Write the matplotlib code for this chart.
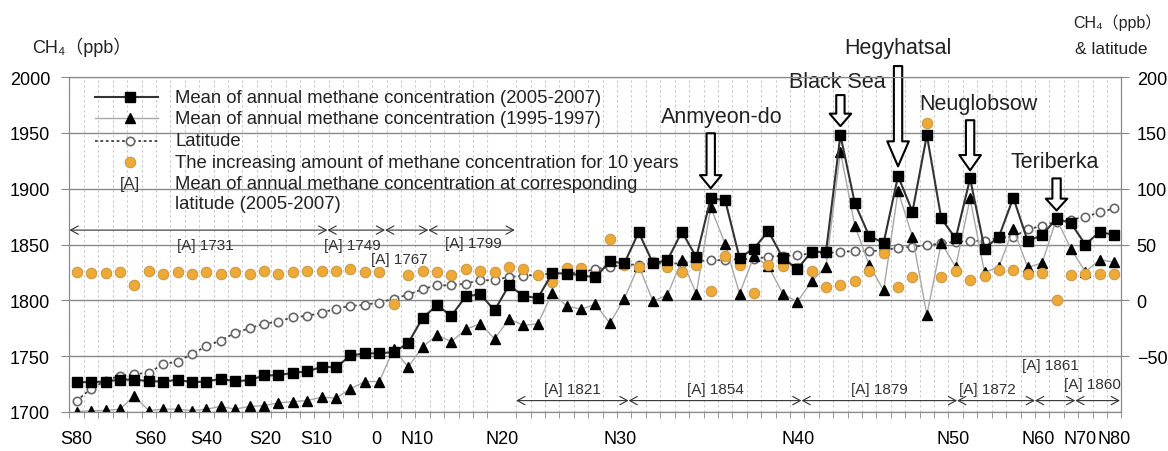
import numpy as np
import matplotlib
matplotlib.use('Agg')
import matplotlib.pyplot as plt
from matplotlib.patches import Rectangle

plt.rcParams['font.family'] = ['Liberation Sans', 'DejaVu Sans', 'Noto Sans CJK JP']

# datos por estacion (de sur a norte)
conc_2005 = [1726.7, 1726.7, 1727.3, 1729.0, 1729.0, 1727.6, 1727.3, 1728.8, 1726.7, 1727.3,
             1729.7, 1727.6, 1728.5, 1732.7, 1733.0, 1735.0, 1736.3, 1740.5, 1740.0, 1750.6,
             1752.5, 1752.5, 1753.7, 1761.5, 1784.2, 1795.5, 1786.2, 1803.5, 1805.5, 1791.0,
             1813.5, 1804.0, 1802.0, 1824.3, 1824.0, 1822.5, 1820.5, 1835.0, 1833.0, 1861.0,
             1833.0, 1836.0, 1861.5, 1838.5, 1891.3, 1889.8, 1838.0, 1846.4, 1862.0, 1838.0,
             1828.0, 1843.4, 1843.4, 1948.0, 1887.0, 1857.5, 1851.5, 1911.3, 1879.4, 1948.0,
             1873.3, 1855.4, 1909.2, 1846.4, 1857.0, 1891.9, 1853.0, 1858.4, 1873.3, 1869.0,
             1850.0, 1861.4, 1858.4]
conc_1995 = [1700.4, 1701.0, 1701.5, 1702.5, 1714.2, 1701.3, 1702.5, 1702.5, 1701.3, 1702.5,
             1705.0, 1702.5, 1705.0, 1705.7, 1708.2, 1709.3, 1710.2, 1713.3, 1712.4, 1720.7,
             1727.3, 1727.3, 1756.6, 1740.2, 1758.2, 1769.0, 1763.0, 1774.0, 1779.0, 1765.5,
             1783.3, 1777.6, 1779.0, 1806.5, 1795.0, 1792.0, 1796.5, 1779.5, 1801.5, 1831.0,
             1799.0, 1805.0, 1836.0, 1806.0, 1883.5, 1850.5, 1806.0, 1839.5, 1830.5, 1806.0,
             1798.5, 1817.0, 1830.0, 1933.0, 1867.0, 1831.4, 1809.0, 1897.8, 1857.0, 1787.0,
             1851.5, 1830.0, 1891.3, 1825.0, 1830.0, 1864.0, 1829.5, 1833.5, 1873.0, 1846.0,
             1825.5, 1836.5, 1834.0]
latitud = [-90, -79, -72, -67.5, -66, -65, -57, -55, -48, -41,
           -36, -29, -25, -21, -19, -15, -14, -11, -7.5, -5,
           -4, -2, 1.5, 5, 10, 13.5, 13.5, 15, 18, 18,
           21, 22, 23, 24, 24, 25, 28, 30, 32, 32,
           33, 33, 33, 35, 36, 36, 37, 37, 39, 40,
           40.5, 42, 42, 43.5, 44, 44, 45, 47, 48, 49.4,
           50.9, 52.4, 53, 53.5, 56, 57, 63.5, 66.8, 70.5, 72,
           75, 78.7, 82.5]
incremento = [25.5, 24.6, 24.6, 25.5, 14, 26, 24, 25, 24, 25,
              23.4, 25, 23.4, 26, 23.4, 25, 26, 26, 26, 28.5,
              25, 25, -3.6, 22.5, 26, 25.5, 22.5, 28.5, 26, 25.5,
              30, 27.8, 23.1, 16.5, 29, 29, 21.9, 55, 31.4, 30,
              34, 30, 25, 31.4, 8, 39.5, 31.4, 7, 31.4, 31,
              29, 26, 12, 14, 17.5, 26, 42, 12, 21, 159,
              21, 26, 18, 21.5, 27, 27, 24, 24.5, 0, 22.5,
              24, 24, 24]

# etiquetas del eje x (posicion aproximada en el indice de estacion)
etiquetas_x = ['S80', 'S60', 'S40', 'S20', 'S10', '0', 'N10', 'N20', 'N30', 'N40', 'N50', 'N60', 'N70', 'N80']
pos_etiquetas_x = [0, 5.1, 9.0, 13.1, 16.6, 20.8, 23.6, 29.5, 37.7, 50.1, 60.8, 66.7, 69.6, 72.0]

# estaciones destacadas
estaciones = ['Anmyeon-do', 'Black Sea', 'Hegyhatsal', 'Neuglobsow', 'Teriberka']
idx_estaciones = [44, 53, 57, 62, 68]

# bandas de latitud con la media [A]
bandas_arriba = [(-0.5, 17.4), (17.4, 21.4), (21.4, 24.4), (24.4, 30.4)]
bandas_abajo = [(30.5, 38.3), (38.3, 50.3), (50.3, 61.1), (61.1, 66.5), (66.5, 69.3), (69.3, 72.4)]
medias_A_arriba = [1731, 1749, 1767, 1799]
medias_A_abajo = [1821, 1854, 1879, 1872, 1861, 1860]

x = np.arange(len(conc_2005))

fig = plt.figure(figsize=(11.68, 4.52), dpi=100)
ax = fig.add_axes([0.0595, 0.0863, 0.9006, 0.7411])
ax2 = ax.twinx()
ax.set_xlim(-0.5, len(x) - 0.5)
ax.set_ylim(1700, 2000)
ax2.set_ylim(-100, 200)

# rejilla
ax.set_yticks(np.arange(1700, 2001, 50))
ax.grid(axis='y', color='#8a8a8a', lw=1.0, zorder=0)
ax.set_xticks(np.arange(-0.5, len(x), 1.0), minor=True)
ax.grid(axis='x', which='minor', color='#c8c8c8', lw=0.8, ls=(0, (2, 2.5)), zorder=0)
ax.set_xticks(pos_etiquetas_x, etiquetas_x)
ax.tick_params(axis='x', which='major', length=0, pad=13, labelsize=13)
ax.tick_params(axis='x', which='minor', length=4, color='#888888', direction='out')
ax.tick_params(axis='y', length=6, color='#8a8a8a', pad=8, labelsize=13)
ax2.set_yticks(np.arange(-50, 201, 50), ['\u221250', '0', '50', '100', '150', '200'])
ax2.tick_params(axis='y', length=6, color='#8a8a8a', pad=5, labelsize=13)
for a in (ax, ax2):
    for s in a.spines.values():
        s.set_color('#8a8a8a')

# series
ax.plot(x, latitud, transform=ax2.transData, ls=(0, (1.5, 1.5)), color='#444444', lw=1.3,
        marker='o', ms=6, mfc='white', mec='#666666', mew=1.2, zorder=3)
ax.plot(x, conc_1995, color='#a8a8a8', lw=1.0, marker='^', ms=7.5, mfc='black', mec='black', zorder=4)
ax.plot(x, incremento, transform=ax2.transData, ls='none', marker='o', ms=7.5,
        mfc='#EFA935', mec='#C99A4A', mew=0.8, zorder=5)
ax.plot(x, conc_2005, color='#333333', lw=1.5, marker='s', ms=7.5, mfc='black', mec='black', zorder=6)

# flechas de estaciones: (punta, cola, texto, largo de cabeza)
flechas = {'Anmyeon-do': (1900.3, 1949.6, 1965.0, 0.95),
           'Black Sea': (1956.0, 1983.8, 1996.0, 0.9),
           'Hegyhatsal': (1920.0, 2009.8, 2026.0, 1.8),
           'Neuglobsow': (1916.4, 1961.3, 1976.0, 1.1),
           'Teriberka': (1880.5, 1909.2, 1924.4, 0.85)}
desplaz_texto = {'Anmyeon-do': 0.8, 'Black Sea': -0.2, 'Hegyhatsal': 0.0, 'Neuglobsow': 0.6, 'Teriberka': -0.1}
for nombre, i in zip(estaciones, idx_estaciones):
    punta, cola, ytxt, hl = flechas[nombre]
    ax.annotate('', xy=(i, punta), xytext=(i, cola), annotation_clip=False,
                arrowprops=dict(arrowstyle='simple,head_length=%.2f,head_width=1.55,tail_width=0.6' % hl,
                                fc='white', ec='black', lw=1.5, shrinkA=0, shrinkB=0,
                                mutation_scale=10), zorder=7)
    ax.text(i + desplaz_texto[nombre], ytxt, nombre, ha='center', va='center', fontsize=15.5,
            color='#222222', zorder=7, clip_on=False)

# bandas [A]
estilo_banda = dict(arrowstyle='<->,head_length=0.55,head_width=0.3', color='#333333', lw=0.8,
                    shrinkA=0, shrinkB=0, mutation_scale=10)
for (a, b), m in zip(bandas_arriba, medias_A_arriba):
    ax.annotate('', xy=(a, 1862.9), xytext=(b, 1862.9), arrowprops=estilo_banda, zorder=2)
for (a, b), m in zip(bandas_abajo, medias_A_abajo):
    ax.annotate('', xy=(a, 1710.2), xytext=(b, 1710.2), arrowprops=estilo_banda, zorder=2)
pos_txt_arriba = [(8.9, 1850), (19.1, 1850), (22.4, 1837.4), (27.5, 1851)]
pos_txt_abajo = [(34.4, 1720.8), (44.3, 1720.8), (55.7, 1720.8), (63.2, 1720.5), (67.6, 1741.7), (70.5, 1725)]
for (px, py), m in zip(pos_txt_arriba + pos_txt_abajo, medias_A_arriba + medias_A_abajo):
    ax.text(px, py, '[A] %d' % m, ha='center', va='center', fontsize=11, color='#333333', zorder=2)

# leyenda hecha a mano
ax.add_patch(Rectangle((0.0841, 0.60), 0.505, 0.375, transform=ax.transAxes, fc='white', ec='none', zorder=1))
filas = [0.9394, 0.8767, 0.8099, 0.7454, 0.6836]
ax.plot([0.0242, 0.0841], [filas[0]] * 2, transform=ax.transAxes, color='#333333', lw=1.5, zorder=8)
ax.plot([0.0575], [filas[0]], transform=ax.transAxes, marker='s', ms=7.5, color='black', zorder=8)
ax.plot([0.0242, 0.0841], [filas[1]] * 2, transform=ax.transAxes, color='#a8a8a8', lw=1.0, zorder=8)
ax.plot([0.0575], [filas[1]], transform=ax.transAxes, marker='^', ms=7.5, color='black', zorder=8)
ax.plot([0.0242, 0.0841], [filas[2]] * 2, transform=ax.transAxes, color='#444444', lw=1.3,
        ls=(0, (1.5, 1.5)), zorder=8)
ax.plot([0.0575], [filas[2]], transform=ax.transAxes, marker='o', ms=6, mfc='white', mec='#666666',
        mew=1.2, zorder=8)
ax.plot([0.0575], [filas[3]], transform=ax.transAxes, marker='o', ms=7.5, mfc='#EFA935',
        mec='#C99A4A', mew=0.8, zorder=8)
ax.text(0.0575, filas[4], '[A]', transform=ax.transAxes, ha='center', va='center', fontsize=12,
        color='#333333', zorder=8)
textos_leyenda = ['Mean of annual methane concentration (2005-2007)',
                  'Mean of annual methane concentration (1995-1997)',
                  'Latitude',
                  'The increasing amount of methane concentration for 10 years',
                  'Mean of annual methane concentration at corresponding']
for t, fy in zip(textos_leyenda, filas):
    ax.text(0.1003, fy, t, transform=ax.transAxes, ha='left', va='center',
            fontsize=13.3, color='#222222', zorder=8)
ax.text(0.1003, 0.6239, 'latitude (2005-2007)', transform=ax.transAxes, ha='left', va='center',
        fontsize=13.3, color='#222222', zorder=8)

# titulos de ejes
fig.text(32 / 1168, 1 - 47 / 452, 'CH\u2084\uff08ppb\uff09', ha='left', va='center', fontsize=13, color='#222222')
fig.text(1073 / 1168, 1 - 23 / 452, 'CH\u2084\uff08ppb\uff09', ha='left', va='center', fontsize=11.5, color='#222222')
fig.text(1075 / 1168, 1 - 50 / 452, '& latitude', ha='left', va='center', fontsize=12.5, color='#222222')

fig.savefig('out.png', dpi=100)
